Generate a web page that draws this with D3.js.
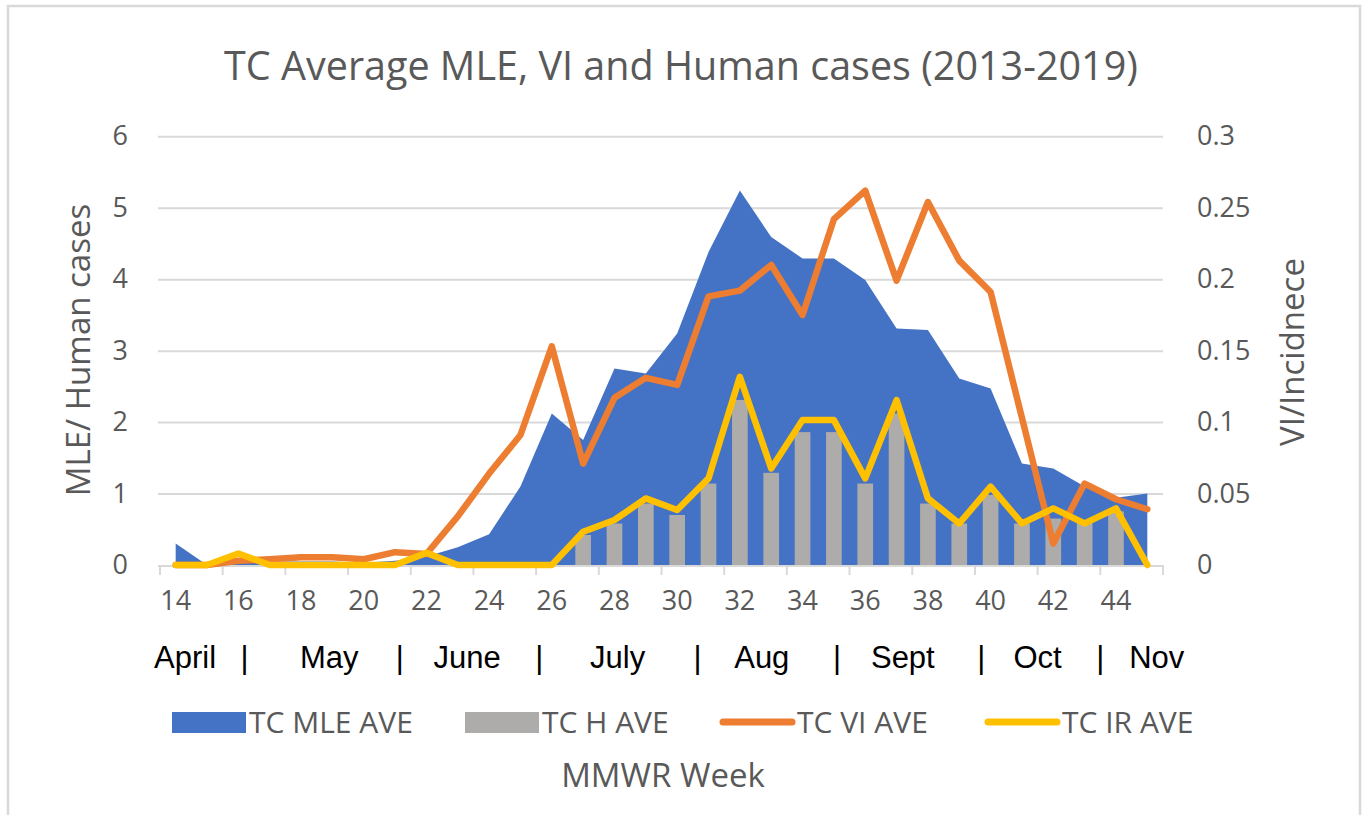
<!DOCTYPE html>
<html>
<head>
<meta charset="utf-8">
<script src="https://cdn.jsdelivr.net/npm/d3@7"></script>
<style>
  html, body { margin: 0; padding: 0; background: #fff; }
  svg { display: block; }
  text { font-family: "Open Sans", "Noto Sans", sans-serif; }
</style>
</head>
<body>
<svg id="chart" width="1368" height="815"></svg>
<script>
// ---------- data ----------
const weeks = [14,15,16,17,18,19,20,21,22,23,24,25,26,27,28,29,30,31,32,33,34,35,36,37,38,39,40,41,42,43,44,45];
const weekTickLabels = [14,16,18,20,22,24,26,28,30,32,34,36,38,40,42,44];
const mleAve = [0.30,0,0.03,0.05,0.05,0.05,0.03,0.06,0.12,0.25,0.43,1.10,2.12,1.75,2.75,2.68,3.24,4.38,5.24,4.59,4.29,4.29,3.99,3.31,3.29,2.61,2.47,1.42,1.35,1.10,0.94,1.00];
const hAve   = [0,0,0,0,0,0,0,0,0,0,0,0,0,0.42,0.58,0.86,0.70,1.14,2.31,1.29,1.86,1.86,1.14,2.12,0.86,0.58,0.98,0.58,0.65,0.60,0.75,0];
const viAve  = [0,0,0.003,0.004,0.0054,0.0054,0.004,0.009,0.0077,0.034,0.064,0.091,0.153,0.071,0.117,0.131,0.126,0.188,0.192,0.210,0.175,0.242,0.262,0.199,0.254,0.213,0.191,0.103,0.015,0.057,0.046,0.039];
const irAve  = [0,0,0.008,0,0,0,0,0,0.0085,0,0,0,0,0.0233,0.0315,0.0466,0.0385,0.0606,0.1317,0.0676,0.1014,0.1014,0.0606,0.1154,0.0466,0.0291,0.0548,0.0291,0.0396,0.0291,0.0396,0];
const leftTicks  = [0,1,2,3,4,5,6];
const rightTicks = [0,0.05,0.1,0.15,0.2,0.25,0.3];
const monthLabels = ["April","|","May","|","June","|","July","|","Aug","|","Sept","|","Oct","|","Nov"];
const monthWeekPos = [14.3,16.2,18.9,21.15,23.3,25.6,28.1,30.65,32.7,35.1,37.2,39.7,41.5,43.5,45.3];
const seriesNames = ["TC MLE AVE","TC H AVE","TC VI AVE","TC IR AVE"];
const title = "TC Average MLE, VI and Human cases (2013-2019)";

// ---------- layout ----------
const W = 1368, H = 815;
const plot = {left: 160, right: 1163, top: 136.3, bottom: 565};
const colors = {mle: "#4472C4", h: "#AEABAB", vi: "#ED7D31", ir: "#FFC000"};
const textGrey = "#595959";

const svg = d3.select("#chart");
svg.append("rect").attr("x",0).attr("y",0).attr("width",W).attr("height",H).attr("fill","#fff");
svg.append("rect").attr("x",8).attr("y",6).attr("width",1352).attr("height",812)
   .attr("fill","none").attr("stroke","#d9d9d9").attr("stroke-width",2.5);

const x = d3.scaleBand().domain(weeks).range([plot.left, plot.right]).padding(0);
const bw = x.bandwidth();
const cx = w => x(w) + bw / 2;
const xPos = wk => plot.left + (wk - weeks[0] + 0.5) * bw; // fractional week position
const yL = d3.scaleLinear().domain([0,6]).range([plot.bottom, plot.top]);
const yR = d3.scaleLinear().domain([0,0.3]).range([plot.bottom, plot.top]);

// gridlines
const grid = svg.append("g").attr("transform",`translate(${plot.left - 2},0)`)
  .call(d3.axisLeft(yL).tickValues(leftTicks.slice(1)).tickSize(-(plot.right - plot.left + 2)).tickFormat(""));
grid.select(".domain").remove();
grid.selectAll("line").attr("stroke","#d9d9d9").attr("stroke-width",2);

// MLE area
const area = d3.area()
  .x((d,i) => cx(weeks[i]))
  .y0(yL(0))
  .y1(d => yL(d));
svg.append("path").datum(mleAve).attr("d", area).attr("fill", colors.mle);

// H bars
const barW = bw * 0.5;
svg.append("g").selectAll("rect").data(hAve).join("rect")
  .attr("x",(d,i) => cx(weeks[i]) - barW/2)
  .attr("y", d => yL(d))
  .attr("width", barW)
  .attr("height", d => yL(0) - yL(d))
  .attr("fill", colors.h);

// x axis baseline + ticks
svg.append("line").attr("x1",plot.left - 2).attr("x2",plot.right).attr("y1",plot.bottom + 1).attr("y2",plot.bottom + 1)
   .attr("stroke","#d9d9d9").attr("stroke-width",2);
const boundaryTicks = weekTickLabels.map(w => x(w)).concat([plot.right]);
svg.append("g").selectAll("line").data(boundaryTicks).join("line")
  .attr("x1", d => d).attr("x2", d => d)
  .attr("y1", plot.bottom).attr("y2", plot.bottom + 10)
  .attr("stroke","#d9d9d9").attr("stroke-width",2);

// lines
const lineR = d3.line().x((d,i) => cx(weeks[i])).y(d => yR(d)).curve(d3.curveLinear);
svg.append("path").datum(viAve).attr("d", lineR).attr("fill","none")
   .attr("stroke", colors.vi).attr("stroke-width",6.5).attr("stroke-linejoin","round").attr("stroke-linecap","round");
svg.append("path").datum(irAve).attr("d", lineR).attr("fill","none")
   .attr("stroke", colors.ir).attr("stroke-width",6.5).attr("stroke-linejoin","round").attr("stroke-linecap","round");

// left axis labels
const axL = svg.append("g").attr("transform",`translate(${plot.left},0)`)
  .call(d3.axisLeft(yL).tickValues(leftTicks).tickSize(0).tickPadding(32).tickFormat(d3.format("d")));
axL.select(".domain").remove();
axL.selectAll("text").attr("fill",textGrey).style("font-size","27px").style("font-family","'Open Sans'");

// right axis labels
const axR = svg.append("g").attr("transform",`translate(${plot.right},0)`)
  .call(d3.axisRight(yR).tickValues(rightTicks).tickSize(0).tickPadding(34).tickFormat(d => d3.format("")(d)));
axR.select(".domain").remove();
axR.selectAll("text").attr("fill",textGrey).style("font-size","27px").style("font-family","'Open Sans'");

// bottom week labels
const axB = svg.append("g").attr("transform",`translate(0,${plot.bottom})`)
  .call(d3.axisBottom(x).tickValues(weekTickLabels).tickSize(0).tickPadding(26));
axB.select(".domain").remove();
axB.selectAll("text").attr("fill",textGrey).style("font-size","27px").style("font-family","'Open Sans'");

// month row
svg.append("g").selectAll("text").data(monthLabels).join("text")
  .attr("x",(d,i) => xPos(monthWeekPos[i]))
  .attr("y", 668)
  .attr("text-anchor","middle")
  .attr("fill","#000")
  .style("font-family","'Liberation Sans Narrow','Liberation Sans',sans-serif")
  .style("font-size","31px")
  .text(d => d);

// title
svg.append("text").attr("x", 681).attr("y", 80).attr("text-anchor","middle")
  .attr("fill",textGrey).style("font-size","39.5px").text(title);

// axis titles
svg.append("text").attr("transform","translate(90,350) rotate(-90)").attr("text-anchor","middle")
  .attr("fill",textGrey).style("font-size","33px").text("MLE/ Human cases");
svg.append("text").attr("transform","translate(1304,352) rotate(-90)").attr("text-anchor","middle")
  .attr("fill",textGrey).style("font-size","33px").text("VI/Incidnece");
svg.append("text").attr("x",663).attr("y",787).attr("text-anchor","middle")
  .attr("fill",textGrey).style("font-size","33px").text("MMWR Week");

// legend
const legendItems = [
  {name: seriesNames[0], type: "rect", color: colors.mle, x: 172},
  {name: seriesNames[1], type: "rect", color: colors.h, x: 465},
  {name: seriesNames[2], type: "line", color: colors.vi, x: 720},
  {name: seriesNames[3], type: "line", color: colors.ir, x: 985}
];
const lg = svg.append("g");
legendItems.forEach(it => {
  if (it.type === "rect") {
    lg.append("rect").attr("x", it.x).attr("y", 712).attr("width", 74).attr("height", 21).attr("fill", it.color);
  } else {
    lg.append("line").attr("x1", it.x + 3).attr("x2", it.x + 72).attr("y1", 722).attr("y2", 722)
      .attr("stroke", it.color).attr("stroke-width", 7).attr("stroke-linecap","round");
  }
  lg.append("text").attr("x", it.x + 77).attr("y", 733).attr("fill", textGrey)
    .style("font-size","30px").text(it.name);
});
</script>
</body>
</html>
